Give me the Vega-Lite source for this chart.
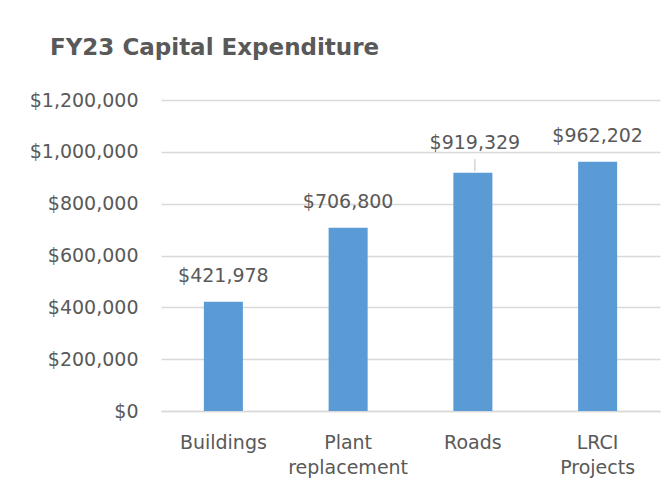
{
  "$schema": "https://vega.github.io/schema/vega-lite/v6.json",
  "width": 499,
  "height": 311,
  "autosize": {"type": "none"},
  "padding": {"left": 161, "top": 100, "right": 11, "bottom": 87},
  "background": "white",
  "config": {"view": {"stroke": null}},
  "title": {
    "text": "FY23 Capital Expenditure",
    "anchor": "start",
    "frame": "group",
    "dx": -111,
    "offset": 31,
    "font": "DejaVu Sans",
    "fontSize": 23,
    "fontWeight": "bold",
    "color": "#595959"
  },
  "data": {
    "values": [
      {"category": "Buildings", "value": 421978},
      {"category": "Plant replacement", "value": 706800},
      {"category": "Roads", "value": 919329},
      {"category": "LRCI Projects", "value": 962202}
    ]
  },
  "encoding": {
    "x": {
      "field": "category",
      "type": "nominal",
      "sort": null,
      "scale": {"paddingInner": 0.687, "paddingOuter": 0.3435},
      "axis": {
        "title": null,
        "labelAngle": 0,
        "labelExpr": "split(datum.label, ' ')",
        "labelFont": "DejaVu Sans",
        "labelFontSize": 19,
        "labelColor": "#595959",
        "labelPadding": 22,
        "labelLineHeight": 25,
        "ticks": false,
        "domain": true,
        "domainColor": "#D9D9D9",
        "domainWidth": 1.5
      }
    },
    "y": {
      "field": "value",
      "type": "quantitative",
      "scale": {"domain": [0, 1200000], "nice": false},
      "axis": {
        "title": null,
        "values": [0, 200000, 400000, 600000, 800000, 1000000, 1200000],
        "format": "$,.0f",
        "labelFont": "DejaVu Sans",
        "labelFontSize": 19,
        "labelColor": "#595959",
        "labelPadding": 23,
        "ticks": false,
        "domain": false,
        "grid": true,
        "gridColor": "#D9D9D9",
        "gridWidth": 1.5
      }
    }
  },
  "layer": [
    {"mark": {"type": "bar", "color": "#5B9BD5"}},
    {
      "transform": [{"filter": "datum.category !== 'Roads'"}],
      "mark": {
        "type": "text",
        "baseline": "alphabetic",
        "dy": -20,
        "font": "DejaVu Sans",
        "fontSize": 19,
        "color": "#595959"
      },
      "encoding": {"text": {"field": "value", "type": "quantitative", "format": "$,.0f"}}
    },
    {
      "transform": [{"filter": "datum.category === 'Roads'"}],
      "mark": {
        "type": "text",
        "baseline": "alphabetic",
        "dy": -24,
        "dx": 2,
        "font": "DejaVu Sans",
        "fontSize": 19,
        "color": "#595959"
      },
      "encoding": {"text": {"field": "value", "type": "quantitative", "format": "$,.0f"}}
    },
    {
      "transform": [{"filter": "datum.category === 'Roads'"}],
      "mark": {
        "type": "tick",
        "orient": "vertical",
        "size": 12,
        "thickness": 1,
        "yOffset": -7.5,
        "xOffset": 2,
        "color": "#A6A6A6"
      }
    }
  ]
}
